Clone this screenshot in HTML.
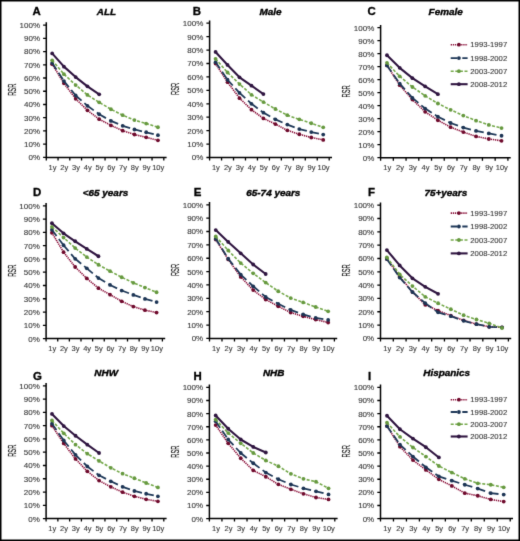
<!DOCTYPE html>
<html><head><meta charset="utf-8"><style>
html,body{margin:0;padding:0;background:#fff;}
svg{display:block;will-change:transform;}
text{font-family:"Liberation Sans",sans-serif;}
</style></head><body>
<svg width="520" height="541" viewBox="0 0 520 541">
<defs><filter id="soft" x="0" y="0" width="520" height="541" filterUnits="userSpaceOnUse" color-interpolation-filters="sRGB"><feConvolveMatrix order="3" kernelMatrix="0.01 0.08 0.01 0.08 0.64 0.08 0.01 0.08 0.01" divisor="1" edgeMode="duplicate"/></filter></defs>
<g filter="url(#soft)">
<rect x="0" y="0" width="520" height="541" fill="#fff"/>
<g stroke="#000" stroke-width="1.5" fill="none">
<path d="M46.3 22.3V157.4H166.6"/>
<path d="M43.1 157.4h3.2M43.1 144.17h3.2M43.1 130.94h3.2M43.1 117.71h3.2M43.1 104.48h3.2M43.1 91.25h3.2M43.1 78.02h3.2M43.1 64.79h3.2M43.1 51.56h3.2M43.1 38.33h3.2M43.1 25.1h3.2" stroke-width="1.3"/>
<path d="M46.3 157.4v3M58.05 157.4v3M69.8 157.4v3M81.55 157.4v3M93.3 157.4v3M105.05 157.4v3M116.8 157.4v3M128.55 157.4v3M140.3 157.4v3M152.05 157.4v3M163.8 157.4v3" stroke-width="1.3"/>
</g>
<g font-family="Liberation Sans, sans-serif" font-size="8.0" fill="#3a3a3a" stroke="#3a3a3a" stroke-width="0.12" text-anchor="end">
<text x="40" y="160.3">0%</text>
<text x="40" y="147.07">10%</text>
<text x="40" y="133.84">20%</text>
<text x="40" y="120.61">30%</text>
<text x="40" y="107.38">40%</text>
<text x="40" y="94.15">50%</text>
<text x="40" y="80.92">60%</text>
<text x="40" y="67.69">70%</text>
<text x="40" y="54.46">80%</text>
<text x="40" y="41.23">90%</text>
<text x="40" y="28">100%</text>
</g>
<g font-family="Liberation Sans, sans-serif" font-size="7.5" fill="#3a3a3a" stroke="#3a3a3a" stroke-width="0.12" text-anchor="middle">
<text x="52.47" y="169.6">1y</text>
<text x="64.22" y="169.6">2y</text>
<text x="75.97" y="169.6">3y</text>
<text x="87.73" y="169.6">4y</text>
<text x="99.48" y="169.6">5y</text>
<text x="111.23" y="169.6">6y</text>
<text x="122.98" y="169.6">7y</text>
<text x="134.73" y="169.6">8y</text>
<text x="146.48" y="169.6">9y</text>
<text x="158.23" y="169.6">10y</text>
</g>
<polyline points="52.17,64.13 63.92,83.31 75.67,98.79 87.43,110.3 99.18,119.17 110.93,125.38 122.68,130.68 134.43,134.51 146.18,137.29 157.93,140.33" fill="none" stroke="#8a0e38" stroke-width="1.6" stroke-dasharray="1.3 0.8" stroke-linejoin="round"/>
<circle cx="52.17" cy="64.13" r="1.9" fill="#6e0a2c"/>
<circle cx="63.92" cy="83.31" r="1.9" fill="#6e0a2c"/>
<circle cx="75.67" cy="98.79" r="1.9" fill="#6e0a2c"/>
<circle cx="87.43" cy="110.3" r="1.9" fill="#6e0a2c"/>
<circle cx="99.18" cy="119.17" r="1.9" fill="#6e0a2c"/>
<circle cx="110.93" cy="125.38" r="1.9" fill="#6e0a2c"/>
<circle cx="122.68" cy="130.68" r="1.9" fill="#6e0a2c"/>
<circle cx="134.43" cy="134.51" r="1.9" fill="#6e0a2c"/>
<circle cx="146.18" cy="137.29" r="1.9" fill="#6e0a2c"/>
<circle cx="157.93" cy="140.33" r="1.9" fill="#6e0a2c"/>
<path d="M52.17 63.07L63.92 81.06M63.92 81.06L75.67 95.48M75.67 95.48L87.43 105.8M87.43 105.8L99.18 114.27M99.18 114.27L110.93 120.89M110.93 120.89L122.68 125.78M122.68 125.78L134.43 129.48M134.43 129.48L146.18 132.26M146.18 132.26L157.93 135.17" fill="none" stroke="#1e3858" stroke-width="1.8" stroke-dasharray="7.8 3.8"/>
<circle cx="52.17" cy="63.07" r="1.9" fill="#1c3454"/>
<circle cx="63.92" cy="81.06" r="1.9" fill="#1c3454"/>
<circle cx="75.67" cy="95.48" r="1.9" fill="#1c3454"/>
<circle cx="87.43" cy="105.8" r="1.9" fill="#1c3454"/>
<circle cx="99.18" cy="114.27" r="1.9" fill="#1c3454"/>
<circle cx="110.93" cy="120.89" r="1.9" fill="#1c3454"/>
<circle cx="122.68" cy="125.78" r="1.9" fill="#1c3454"/>
<circle cx="134.43" cy="129.48" r="1.9" fill="#1c3454"/>
<circle cx="146.18" cy="132.26" r="1.9" fill="#1c3454"/>
<circle cx="157.93" cy="135.17" r="1.9" fill="#1c3454"/>
<polyline points="52.17,60.29 63.92,74.18 75.67,85.03 87.43,94.95 99.18,102.36 110.93,109.24 122.68,115.2 134.43,120.09 146.18,123.53 157.93,127.24" fill="none" stroke="#74a84a" stroke-width="1.6" stroke-dasharray="3 1.6" stroke-linejoin="round"/>
<circle cx="52.17" cy="60.29" r="1.9" fill="#66993f"/>
<circle cx="63.92" cy="74.18" r="1.9" fill="#66993f"/>
<circle cx="75.67" cy="85.03" r="1.9" fill="#66993f"/>
<circle cx="87.43" cy="94.95" r="1.9" fill="#66993f"/>
<circle cx="99.18" cy="102.36" r="1.9" fill="#66993f"/>
<circle cx="110.93" cy="109.24" r="1.9" fill="#66993f"/>
<circle cx="122.68" cy="115.2" r="1.9" fill="#66993f"/>
<circle cx="134.43" cy="120.09" r="1.9" fill="#66993f"/>
<circle cx="146.18" cy="123.53" r="1.9" fill="#66993f"/>
<circle cx="157.93" cy="127.24" r="1.9" fill="#66993f"/>
<polyline points="52.17,53.41 63.92,66.64 75.67,77.09 87.43,86.35 99.18,94.29" fill="none" stroke="#2f1540" stroke-width="2.1" stroke-linejoin="round"/>
<circle cx="52.17" cy="53.41" r="1.9" fill="#2f1540"/>
<circle cx="63.92" cy="66.64" r="1.9" fill="#2f1540"/>
<circle cx="75.67" cy="77.09" r="1.9" fill="#2f1540"/>
<circle cx="87.43" cy="86.35" r="1.9" fill="#2f1540"/>
<circle cx="99.18" cy="94.29" r="1.9" fill="#2f1540"/>
<text transform="translate(106.4,15.2) scale(1.08,1)" font-family="Liberation Sans, sans-serif" font-size="9.2" font-weight="bold" font-style="italic" text-anchor="middle" fill="#000" stroke="#000" stroke-width="0.35">ALL</text>
<text transform="translate(32.5,14.9) scale(1.1,1)" font-family="Liberation Sans, sans-serif" font-size="10.4" font-weight="bold" fill="#000" stroke="#000" stroke-width="0.3">A</text>
<text transform="translate(15.6,89.7) rotate(-90)" x="0" y="0" font-family="Liberation Sans, sans-serif" font-size="10" text-anchor="middle" textLength="12.2" lengthAdjust="spacingAndGlyphs" fill="#222" stroke="#222" stroke-width="0.25">RSR</text>
<g stroke="#000" stroke-width="1.5" fill="none">
<path d="M209.6 20.4V157.5H332"/>
<path d="M206.4 157.5h3.2M206.4 144.07h3.2M206.4 130.64h3.2M206.4 117.21h3.2M206.4 103.78h3.2M206.4 90.35h3.2M206.4 76.92h3.2M206.4 63.49h3.2M206.4 50.06h3.2M206.4 36.63h3.2M206.4 23.2h3.2" stroke-width="1.3"/>
<path d="M209.6 157.5v3M221.56 157.5v3M233.52 157.5v3M245.48 157.5v3M257.44 157.5v3M269.4 157.5v3M281.36 157.5v3M293.32 157.5v3M305.28 157.5v3M317.24 157.5v3M329.2 157.5v3" stroke-width="1.3"/>
</g>
<g font-family="Liberation Sans, sans-serif" font-size="8.0" fill="#3a3a3a" stroke="#3a3a3a" stroke-width="0.12" text-anchor="end">
<text x="203.3" y="160.4">0%</text>
<text x="203.3" y="146.97">10%</text>
<text x="203.3" y="133.54">20%</text>
<text x="203.3" y="120.11">30%</text>
<text x="203.3" y="106.68">40%</text>
<text x="203.3" y="93.25">50%</text>
<text x="203.3" y="79.82">60%</text>
<text x="203.3" y="66.39">70%</text>
<text x="203.3" y="52.96">80%</text>
<text x="203.3" y="39.53">90%</text>
<text x="203.3" y="26.1">100%</text>
</g>
<g font-family="Liberation Sans, sans-serif" font-size="7.5" fill="#3a3a3a" stroke="#3a3a3a" stroke-width="0.12" text-anchor="middle">
<text x="215.88" y="169.7">1y</text>
<text x="227.84" y="169.7">2y</text>
<text x="239.8" y="169.7">3y</text>
<text x="251.76" y="169.7">4y</text>
<text x="263.72" y="169.7">5y</text>
<text x="275.68" y="169.7">6y</text>
<text x="287.64" y="169.7">7y</text>
<text x="299.6" y="169.7">8y</text>
<text x="311.56" y="169.7">9y</text>
<text x="323.52" y="169.7">10y</text>
</g>
<polyline points="215.58,63.62 227.54,82.16 239.5,98.14 251.46,109.69 263.42,118.42 275.38,124.06 287.34,130.37 299.3,134.27 311.26,137.49 323.22,139.91" fill="none" stroke="#8a0e38" stroke-width="1.6" stroke-dasharray="1.3 0.8" stroke-linejoin="round"/>
<circle cx="215.58" cy="63.62" r="1.9" fill="#6e0a2c"/>
<circle cx="227.54" cy="82.16" r="1.9" fill="#6e0a2c"/>
<circle cx="239.5" cy="98.14" r="1.9" fill="#6e0a2c"/>
<circle cx="251.46" cy="109.69" r="1.9" fill="#6e0a2c"/>
<circle cx="263.42" cy="118.42" r="1.9" fill="#6e0a2c"/>
<circle cx="275.38" cy="124.06" r="1.9" fill="#6e0a2c"/>
<circle cx="287.34" cy="130.37" r="1.9" fill="#6e0a2c"/>
<circle cx="299.3" cy="134.27" r="1.9" fill="#6e0a2c"/>
<circle cx="311.26" cy="137.49" r="1.9" fill="#6e0a2c"/>
<circle cx="323.22" cy="139.91" r="1.9" fill="#6e0a2c"/>
<path d="M215.58 62.15L227.54 79.74M227.54 79.74L239.5 92.9M239.5 92.9L251.46 103.78M251.46 103.78L263.42 112.64M263.42 112.64L275.38 119.36M275.38 119.36L287.34 124.6M287.34 124.6L299.3 129.03M299.3 129.03L311.26 132.12M311.26 132.12L323.22 134.53" fill="none" stroke="#1e3858" stroke-width="1.8" stroke-dasharray="7.8 3.8"/>
<circle cx="215.58" cy="62.15" r="1.9" fill="#1c3454"/>
<circle cx="227.54" cy="79.74" r="1.9" fill="#1c3454"/>
<circle cx="239.5" cy="92.9" r="1.9" fill="#1c3454"/>
<circle cx="251.46" cy="103.78" r="1.9" fill="#1c3454"/>
<circle cx="263.42" cy="112.64" r="1.9" fill="#1c3454"/>
<circle cx="275.38" cy="119.36" r="1.9" fill="#1c3454"/>
<circle cx="287.34" cy="124.6" r="1.9" fill="#1c3454"/>
<circle cx="299.3" cy="129.03" r="1.9" fill="#1c3454"/>
<circle cx="311.26" cy="132.12" r="1.9" fill="#1c3454"/>
<circle cx="323.22" cy="134.53" r="1.9" fill="#1c3454"/>
<polyline points="215.58,58.79 227.54,72.49 239.5,84.04 251.46,94.78 263.42,102.03 275.38,109.02 287.34,115.2 299.3,119.36 311.26,123.25 323.22,127.28" fill="none" stroke="#74a84a" stroke-width="1.6" stroke-dasharray="3 1.6" stroke-linejoin="round"/>
<circle cx="215.58" cy="58.79" r="1.9" fill="#66993f"/>
<circle cx="227.54" cy="72.49" r="1.9" fill="#66993f"/>
<circle cx="239.5" cy="84.04" r="1.9" fill="#66993f"/>
<circle cx="251.46" cy="94.78" r="1.9" fill="#66993f"/>
<circle cx="263.42" cy="102.03" r="1.9" fill="#66993f"/>
<circle cx="275.38" cy="109.02" r="1.9" fill="#66993f"/>
<circle cx="287.34" cy="115.2" r="1.9" fill="#66993f"/>
<circle cx="299.3" cy="119.36" r="1.9" fill="#66993f"/>
<circle cx="311.26" cy="123.25" r="1.9" fill="#66993f"/>
<circle cx="323.22" cy="127.28" r="1.9" fill="#66993f"/>
<polyline points="215.58,51.94 227.54,64.97 239.5,77.32 251.46,85.65 263.42,94.11" fill="none" stroke="#2f1540" stroke-width="2.1" stroke-linejoin="round"/>
<circle cx="215.58" cy="51.94" r="1.9" fill="#2f1540"/>
<circle cx="227.54" cy="64.97" r="1.9" fill="#2f1540"/>
<circle cx="239.5" cy="77.32" r="1.9" fill="#2f1540"/>
<circle cx="251.46" cy="85.65" r="1.9" fill="#2f1540"/>
<circle cx="263.42" cy="94.11" r="1.9" fill="#2f1540"/>
<text transform="translate(270.5,15.1) scale(1.08,1)" font-family="Liberation Sans, sans-serif" font-size="9.2" font-weight="bold" font-style="italic" text-anchor="middle" fill="#000" stroke="#000" stroke-width="0.35">Male</text>
<text transform="translate(192.7,15) scale(1.1,1)" font-family="Liberation Sans, sans-serif" font-size="10.4" font-weight="bold" fill="#000" stroke="#000" stroke-width="0.3">B</text>
<text transform="translate(179.3,88.9) rotate(-90)" x="0" y="0" font-family="Liberation Sans, sans-serif" font-size="10" text-anchor="middle" textLength="12.2" lengthAdjust="spacingAndGlyphs" fill="#222" stroke="#222" stroke-width="0.25">RSR</text>
<g stroke="#000" stroke-width="1.5" fill="none">
<path d="M380.6 24.9V157.7H510.7"/>
<path d="M377.4 157.7h3.2M377.4 144.7h3.2M377.4 131.7h3.2M377.4 118.7h3.2M377.4 105.7h3.2M377.4 92.7h3.2M377.4 79.7h3.2M377.4 66.7h3.2M377.4 53.7h3.2M377.4 40.7h3.2M377.4 27.7h3.2" stroke-width="1.3"/>
<path d="M380.6 157.7v3M393.33 157.7v3M406.06 157.7v3M418.79 157.7v3M431.52 157.7v3M444.25 157.7v3M456.98 157.7v3M469.71 157.7v3M482.44 157.7v3M495.17 157.7v3M507.9 157.7v3" stroke-width="1.3"/>
</g>
<g font-family="Liberation Sans, sans-serif" font-size="8.0" fill="#3a3a3a" stroke="#3a3a3a" stroke-width="0.12" text-anchor="end">
<text x="374.3" y="160.6">0%</text>
<text x="374.3" y="147.6">10%</text>
<text x="374.3" y="134.6">20%</text>
<text x="374.3" y="121.6">30%</text>
<text x="374.3" y="108.6">40%</text>
<text x="374.3" y="95.6">50%</text>
<text x="374.3" y="82.6">60%</text>
<text x="374.3" y="69.6">70%</text>
<text x="374.3" y="56.6">80%</text>
<text x="374.3" y="43.6">90%</text>
<text x="374.3" y="30.6">100%</text>
</g>
<g font-family="Liberation Sans, sans-serif" font-size="7.5" fill="#3a3a3a" stroke="#3a3a3a" stroke-width="0.12" text-anchor="middle">
<text x="387.27" y="169.9">1y</text>
<text x="400" y="169.9">2y</text>
<text x="412.73" y="169.9">3y</text>
<text x="425.46" y="169.9">4y</text>
<text x="438.19" y="169.9">5y</text>
<text x="450.92" y="169.9">6y</text>
<text x="463.64" y="169.9">7y</text>
<text x="476.38" y="169.9">8y</text>
<text x="489.1" y="169.9">9y</text>
<text x="501.83" y="169.9">10y</text>
</g>
<polyline points="386.97,65.4 399.69,85.16 412.43,99.59 425.16,111.81 437.88,120.26 450.62,127.15 463.34,132.09 476.07,136.38 488.8,138.98 501.53,140.8" fill="none" stroke="#8a0e38" stroke-width="1.6" stroke-dasharray="1.3 0.8" stroke-linejoin="round"/>
<circle cx="386.97" cy="65.4" r="1.9" fill="#6e0a2c"/>
<circle cx="399.69" cy="85.16" r="1.9" fill="#6e0a2c"/>
<circle cx="412.43" cy="99.59" r="1.9" fill="#6e0a2c"/>
<circle cx="425.16" cy="111.81" r="1.9" fill="#6e0a2c"/>
<circle cx="437.88" cy="120.26" r="1.9" fill="#6e0a2c"/>
<circle cx="450.62" cy="127.15" r="1.9" fill="#6e0a2c"/>
<circle cx="463.34" cy="132.09" r="1.9" fill="#6e0a2c"/>
<circle cx="476.07" cy="136.38" r="1.9" fill="#6e0a2c"/>
<circle cx="488.8" cy="138.98" r="1.9" fill="#6e0a2c"/>
<circle cx="501.53" cy="140.8" r="1.9" fill="#6e0a2c"/>
<path d="M386.97 65.4L399.69 83.6M399.69 83.6L412.43 97.9M412.43 97.9L425.16 108.56M425.16 108.56L437.88 116.75M437.88 116.75L450.62 122.99M450.62 122.99L463.34 127.54M463.34 127.54L476.07 130.92M476.07 130.92L488.8 133.39M488.8 133.39L501.53 135.73" fill="none" stroke="#1e3858" stroke-width="1.8" stroke-dasharray="7.8 3.8"/>
<circle cx="386.97" cy="65.4" r="1.9" fill="#1c3454"/>
<circle cx="399.69" cy="83.6" r="1.9" fill="#1c3454"/>
<circle cx="412.43" cy="97.9" r="1.9" fill="#1c3454"/>
<circle cx="425.16" cy="108.56" r="1.9" fill="#1c3454"/>
<circle cx="437.88" cy="116.75" r="1.9" fill="#1c3454"/>
<circle cx="450.62" cy="122.99" r="1.9" fill="#1c3454"/>
<circle cx="463.34" cy="127.54" r="1.9" fill="#1c3454"/>
<circle cx="476.07" cy="130.92" r="1.9" fill="#1c3454"/>
<circle cx="488.8" cy="133.39" r="1.9" fill="#1c3454"/>
<circle cx="501.53" cy="135.73" r="1.9" fill="#1c3454"/>
<polyline points="386.97,62.8 399.69,76.32 412.43,86.98 425.16,95.82 437.88,103.49 450.62,109.86 463.34,115.58 476.07,120.65 488.8,124.94 501.53,128.06" fill="none" stroke="#74a84a" stroke-width="1.6" stroke-dasharray="3 1.6" stroke-linejoin="round"/>
<circle cx="386.97" cy="62.8" r="1.9" fill="#66993f"/>
<circle cx="399.69" cy="76.32" r="1.9" fill="#66993f"/>
<circle cx="412.43" cy="86.98" r="1.9" fill="#66993f"/>
<circle cx="425.16" cy="95.82" r="1.9" fill="#66993f"/>
<circle cx="437.88" cy="103.49" r="1.9" fill="#66993f"/>
<circle cx="450.62" cy="109.86" r="1.9" fill="#66993f"/>
<circle cx="463.34" cy="115.58" r="1.9" fill="#66993f"/>
<circle cx="476.07" cy="120.65" r="1.9" fill="#66993f"/>
<circle cx="488.8" cy="124.94" r="1.9" fill="#66993f"/>
<circle cx="501.53" cy="128.06" r="1.9" fill="#66993f"/>
<polyline points="386.97,55.26 399.69,67.87 412.43,78.14 425.16,86.46 437.88,94.13" fill="none" stroke="#2f1540" stroke-width="2.1" stroke-linejoin="round"/>
<circle cx="386.97" cy="55.26" r="1.9" fill="#2f1540"/>
<circle cx="399.69" cy="67.87" r="1.9" fill="#2f1540"/>
<circle cx="412.43" cy="78.14" r="1.9" fill="#2f1540"/>
<circle cx="425.16" cy="86.46" r="1.9" fill="#2f1540"/>
<circle cx="437.88" cy="94.13" r="1.9" fill="#2f1540"/>
<text transform="translate(445.7,15.1) scale(1.08,1)" font-family="Liberation Sans, sans-serif" font-size="9.2" font-weight="bold" font-style="italic" text-anchor="middle" fill="#000" stroke="#000" stroke-width="0.35">Female</text>
<text transform="translate(367.5,15) scale(1.1,1)" font-family="Liberation Sans, sans-serif" font-size="10.4" font-weight="bold" fill="#000" stroke="#000" stroke-width="0.3">C</text>
<text transform="translate(350.4,91.4) rotate(-90)" x="0" y="0" font-family="Liberation Sans, sans-serif" font-size="10" text-anchor="middle" textLength="12.2" lengthAdjust="spacingAndGlyphs" fill="#222" stroke="#222" stroke-width="0.25">RSR</text>
<path d="M450.7 44.7H467.6" stroke="#8a0e38" stroke-width="1.6" stroke-dasharray="1.3 0.8" fill="none"/>
<circle cx="458.9" cy="44.7" r="1.9" fill="#6e0a2c"/>
<text x="470.3" y="47.4" font-family="Liberation Sans, sans-serif" font-size="7.7" fill="#3a3a3a" stroke="#3a3a3a" stroke-width="0.12" textLength="36.9" lengthAdjust="spacingAndGlyphs">1993-1997</text>
<path d="M450.7 58.1H467.6" stroke="#1e3858" stroke-width="1.8" stroke-dasharray="6.3 5.3 6 0" fill="none"/>
<circle cx="458.9" cy="58.1" r="1.9" fill="#1c3454"/>
<text x="470.3" y="60.8" font-family="Liberation Sans, sans-serif" font-size="7.7" fill="#3a3a3a" stroke="#3a3a3a" stroke-width="0.12" textLength="36.9" lengthAdjust="spacingAndGlyphs">1998-2002</text>
<path d="M450.7 71.2H467.6" stroke="#74a84a" stroke-width="1.6" stroke-dasharray="3 1.6" fill="none"/>
<circle cx="458.9" cy="71.2" r="1.9" fill="#66993f"/>
<text x="470.3" y="73.9" font-family="Liberation Sans, sans-serif" font-size="7.7" fill="#3a3a3a" stroke="#3a3a3a" stroke-width="0.12" textLength="36.9" lengthAdjust="spacingAndGlyphs">2003-2007</text>
<path d="M450.7 84.2H467.6" stroke="#2f1540" stroke-width="2.1" fill="none"/>
<circle cx="458.9" cy="84.2" r="1.9" fill="#2f1540"/>
<text x="470.3" y="86.9" font-family="Liberation Sans, sans-serif" font-size="7.7" fill="#3a3a3a" stroke="#3a3a3a" stroke-width="0.12" textLength="36.9" lengthAdjust="spacingAndGlyphs">2008-2012</text>
<g stroke="#000" stroke-width="1.5" fill="none">
<path d="M46.1 203V338.6H165.2"/>
<path d="M42.9 338.6h3.2M42.9 325.32h3.2M42.9 312.04h3.2M42.9 298.76h3.2M42.9 285.48h3.2M42.9 272.2h3.2M42.9 258.92h3.2M42.9 245.64h3.2M42.9 232.36h3.2M42.9 219.08h3.2M42.9 205.8h3.2" stroke-width="1.3"/>
<path d="M46.1 338.6v3M57.73 338.6v3M69.36 338.6v3M80.99 338.6v3M92.62 338.6v3M104.25 338.6v3M115.88 338.6v3M127.51 338.6v3M139.14 338.6v3M150.77 338.6v3M162.4 338.6v3" stroke-width="1.3"/>
</g>
<g font-family="Liberation Sans, sans-serif" font-size="8.0" fill="#3a3a3a" stroke="#3a3a3a" stroke-width="0.12" text-anchor="end">
<text x="39.8" y="341.5">0%</text>
<text x="39.8" y="328.22">10%</text>
<text x="39.8" y="314.94">20%</text>
<text x="39.8" y="301.66">30%</text>
<text x="39.8" y="288.38">40%</text>
<text x="39.8" y="275.1">50%</text>
<text x="39.8" y="261.82">60%</text>
<text x="39.8" y="248.54">70%</text>
<text x="39.8" y="235.26">80%</text>
<text x="39.8" y="221.98">90%</text>
<text x="39.8" y="208.7">100%</text>
</g>
<g font-family="Liberation Sans, sans-serif" font-size="7.5" fill="#3a3a3a" stroke="#3a3a3a" stroke-width="0.12" text-anchor="middle">
<text x="52.21" y="350.8">1y</text>
<text x="63.84" y="350.8">2y</text>
<text x="75.48" y="350.8">3y</text>
<text x="87.11" y="350.8">4y</text>
<text x="98.73" y="350.8">5y</text>
<text x="110.36" y="350.8">6y</text>
<text x="121.99" y="350.8">7y</text>
<text x="133.63" y="350.8">8y</text>
<text x="145.26" y="350.8">9y</text>
<text x="156.89" y="350.8">10y</text>
</g>
<polyline points="51.91,232.76 63.55,252.15 75.18,267.02 86.81,278.44 98.44,288.14 110.06,294.64 121.69,301.28 133.33,306.6 144.96,310.18 156.59,312.57" fill="none" stroke="#8a0e38" stroke-width="1.6" stroke-dasharray="1.3 0.8" stroke-linejoin="round"/>
<circle cx="51.91" cy="232.76" r="1.9" fill="#6e0a2c"/>
<circle cx="63.55" cy="252.15" r="1.9" fill="#6e0a2c"/>
<circle cx="75.18" cy="267.02" r="1.9" fill="#6e0a2c"/>
<circle cx="86.81" cy="278.44" r="1.9" fill="#6e0a2c"/>
<circle cx="98.44" cy="288.14" r="1.9" fill="#6e0a2c"/>
<circle cx="110.06" cy="294.64" r="1.9" fill="#6e0a2c"/>
<circle cx="121.69" cy="301.28" r="1.9" fill="#6e0a2c"/>
<circle cx="133.33" cy="306.6" r="1.9" fill="#6e0a2c"/>
<circle cx="144.96" cy="310.18" r="1.9" fill="#6e0a2c"/>
<circle cx="156.59" cy="312.57" r="1.9" fill="#6e0a2c"/>
<path d="M51.91 229.7L63.55 245.24M63.55 245.24L75.18 258.79M75.18 258.79L86.81 268.35M86.81 268.35L98.44 278.04M98.44 278.04L110.06 284.95M110.06 284.95L121.69 290.53M121.69 290.53L133.33 294.91M133.33 294.91L144.96 298.89M144.96 298.89L156.59 302.08" fill="none" stroke="#1e3858" stroke-width="1.8" stroke-dasharray="7.8 3.8"/>
<circle cx="51.91" cy="229.7" r="1.9" fill="#1c3454"/>
<circle cx="63.55" cy="245.24" r="1.9" fill="#1c3454"/>
<circle cx="75.18" cy="258.79" r="1.9" fill="#1c3454"/>
<circle cx="86.81" cy="268.35" r="1.9" fill="#1c3454"/>
<circle cx="98.44" cy="278.04" r="1.9" fill="#1c3454"/>
<circle cx="110.06" cy="284.95" r="1.9" fill="#1c3454"/>
<circle cx="121.69" cy="290.53" r="1.9" fill="#1c3454"/>
<circle cx="133.33" cy="294.91" r="1.9" fill="#1c3454"/>
<circle cx="144.96" cy="298.89" r="1.9" fill="#1c3454"/>
<circle cx="156.59" cy="302.08" r="1.9" fill="#1c3454"/>
<polyline points="51.91,226.78 63.55,237.54 75.18,248.03 86.81,257.06 98.44,264.76 110.06,271.14 121.69,277.25 133.33,282.82 144.96,287.6 156.59,292.25" fill="none" stroke="#74a84a" stroke-width="1.6" stroke-dasharray="3 1.6" stroke-linejoin="round"/>
<circle cx="51.91" cy="226.78" r="1.9" fill="#66993f"/>
<circle cx="63.55" cy="237.54" r="1.9" fill="#66993f"/>
<circle cx="75.18" cy="248.03" r="1.9" fill="#66993f"/>
<circle cx="86.81" cy="257.06" r="1.9" fill="#66993f"/>
<circle cx="98.44" cy="264.76" r="1.9" fill="#66993f"/>
<circle cx="110.06" cy="271.14" r="1.9" fill="#66993f"/>
<circle cx="121.69" cy="277.25" r="1.9" fill="#66993f"/>
<circle cx="133.33" cy="282.82" r="1.9" fill="#66993f"/>
<circle cx="144.96" cy="287.6" r="1.9" fill="#66993f"/>
<circle cx="156.59" cy="292.25" r="1.9" fill="#66993f"/>
<polyline points="51.91,223.2 63.55,233.29 75.18,241.26 86.81,248.96 98.44,256.26" fill="none" stroke="#2f1540" stroke-width="2.1" stroke-linejoin="round"/>
<circle cx="51.91" cy="223.2" r="1.9" fill="#2f1540"/>
<circle cx="63.55" cy="233.29" r="1.9" fill="#2f1540"/>
<circle cx="75.18" cy="241.26" r="1.9" fill="#2f1540"/>
<circle cx="86.81" cy="248.96" r="1.9" fill="#2f1540"/>
<circle cx="98.44" cy="256.26" r="1.9" fill="#2f1540"/>
<text transform="translate(105.5,195.9) scale(1.08,1)" font-family="Liberation Sans, sans-serif" font-size="9.2" font-weight="bold" font-style="italic" text-anchor="middle" fill="#000" stroke="#000" stroke-width="0.35">&lt;65 years</text>
<text transform="translate(33,195.9) scale(1.1,1)" font-family="Liberation Sans, sans-serif" font-size="10.4" font-weight="bold" fill="#000" stroke="#000" stroke-width="0.3">D</text>
<text transform="translate(15.8,270.7) rotate(-90)" x="0" y="0" font-family="Liberation Sans, sans-serif" font-size="10" text-anchor="middle" textLength="12.2" lengthAdjust="spacingAndGlyphs" fill="#222" stroke="#222" stroke-width="0.25">RSR</text>
<g stroke="#000" stroke-width="1.5" fill="none">
<path d="M209.5 202V338.4H337.2"/>
<path d="M206.3 338.4h3.2M206.3 325.04h3.2M206.3 311.68h3.2M206.3 298.32h3.2M206.3 284.96h3.2M206.3 271.6h3.2M206.3 258.24h3.2M206.3 244.88h3.2M206.3 231.52h3.2M206.3 218.16h3.2M206.3 204.8h3.2" stroke-width="1.3"/>
<path d="M209.5 338.4v3M221.99 338.4v3M234.48 338.4v3M246.97 338.4v3M259.46 338.4v3M271.95 338.4v3M284.44 338.4v3M296.93 338.4v3M309.42 338.4v3M321.91 338.4v3M334.4 338.4v3" stroke-width="1.3"/>
</g>
<g font-family="Liberation Sans, sans-serif" font-size="8.0" fill="#3a3a3a" stroke="#3a3a3a" stroke-width="0.12" text-anchor="end">
<text x="203.2" y="341.3">0%</text>
<text x="203.2" y="327.94">10%</text>
<text x="203.2" y="314.58">20%</text>
<text x="203.2" y="301.22">30%</text>
<text x="203.2" y="287.86">40%</text>
<text x="203.2" y="274.5">50%</text>
<text x="203.2" y="261.14">60%</text>
<text x="203.2" y="247.78">70%</text>
<text x="203.2" y="234.42">80%</text>
<text x="203.2" y="221.06">90%</text>
<text x="203.2" y="207.7">100%</text>
</g>
<g font-family="Liberation Sans, sans-serif" font-size="7.5" fill="#3a3a3a" stroke="#3a3a3a" stroke-width="0.12" text-anchor="middle">
<text x="216.05" y="350.6">1y</text>
<text x="228.54" y="350.6">2y</text>
<text x="241.03" y="350.6">3y</text>
<text x="253.52" y="350.6">4y</text>
<text x="266" y="350.6">5y</text>
<text x="278.5" y="350.6">6y</text>
<text x="290.99" y="350.6">7y</text>
<text x="303.47" y="350.6">8y</text>
<text x="315.96" y="350.6">9y</text>
<text x="328.45" y="350.6">10y</text>
</g>
<polyline points="215.75,239.54 228.24,259.44 240.72,276.94 253.22,290.04 265.7,299.52 278.19,306.34 290.69,312.48 303.17,316.36 315.66,319.56 328.15,322.5" fill="none" stroke="#8a0e38" stroke-width="1.6" stroke-dasharray="1.3 0.8" stroke-linejoin="round"/>
<circle cx="215.75" cy="239.54" r="1.9" fill="#6e0a2c"/>
<circle cx="228.24" cy="259.44" r="1.9" fill="#6e0a2c"/>
<circle cx="240.72" cy="276.94" r="1.9" fill="#6e0a2c"/>
<circle cx="253.22" cy="290.04" r="1.9" fill="#6e0a2c"/>
<circle cx="265.7" cy="299.52" r="1.9" fill="#6e0a2c"/>
<circle cx="278.19" cy="306.34" r="1.9" fill="#6e0a2c"/>
<circle cx="290.69" cy="312.48" r="1.9" fill="#6e0a2c"/>
<circle cx="303.17" cy="316.36" r="1.9" fill="#6e0a2c"/>
<circle cx="315.66" cy="319.56" r="1.9" fill="#6e0a2c"/>
<circle cx="328.15" cy="322.5" r="1.9" fill="#6e0a2c"/>
<path d="M215.75 238.73L228.24 258.77M228.24 258.77L240.72 274.54M240.72 274.54L253.22 286.3M253.22 286.3L265.7 296.98M265.7 296.98L278.19 303.8M278.19 303.8L290.69 309.94M290.69 309.94L303.17 314.49M303.17 314.49L315.66 317.96M315.66 317.96L328.15 319.96" fill="none" stroke="#1e3858" stroke-width="1.8" stroke-dasharray="7.8 3.8"/>
<circle cx="215.75" cy="238.73" r="1.9" fill="#1c3454"/>
<circle cx="228.24" cy="258.77" r="1.9" fill="#1c3454"/>
<circle cx="240.72" cy="274.54" r="1.9" fill="#1c3454"/>
<circle cx="253.22" cy="286.3" r="1.9" fill="#1c3454"/>
<circle cx="265.7" cy="296.98" r="1.9" fill="#1c3454"/>
<circle cx="278.19" cy="303.8" r="1.9" fill="#1c3454"/>
<circle cx="290.69" cy="309.94" r="1.9" fill="#1c3454"/>
<circle cx="303.17" cy="314.49" r="1.9" fill="#1c3454"/>
<circle cx="315.66" cy="317.96" r="1.9" fill="#1c3454"/>
<circle cx="328.15" cy="319.96" r="1.9" fill="#1c3454"/>
<polyline points="215.75,236.46 228.24,250.49 240.72,263.05 253.22,273.34 265.7,282.56 278.19,291.24 290.69,298.05 303.17,302.46 315.66,307 328.15,311.28" fill="none" stroke="#74a84a" stroke-width="1.6" stroke-dasharray="3 1.6" stroke-linejoin="round"/>
<circle cx="215.75" cy="236.46" r="1.9" fill="#66993f"/>
<circle cx="228.24" cy="250.49" r="1.9" fill="#66993f"/>
<circle cx="240.72" cy="263.05" r="1.9" fill="#66993f"/>
<circle cx="253.22" cy="273.34" r="1.9" fill="#66993f"/>
<circle cx="265.7" cy="282.56" r="1.9" fill="#66993f"/>
<circle cx="278.19" cy="291.24" r="1.9" fill="#66993f"/>
<circle cx="290.69" cy="298.05" r="1.9" fill="#66993f"/>
<circle cx="303.17" cy="302.46" r="1.9" fill="#66993f"/>
<circle cx="315.66" cy="307" r="1.9" fill="#66993f"/>
<circle cx="328.15" cy="311.28" r="1.9" fill="#66993f"/>
<polyline points="215.75,230.05 228.24,241.94 240.72,253.3 253.22,264.52 265.7,274" fill="none" stroke="#2f1540" stroke-width="2.1" stroke-linejoin="round"/>
<circle cx="215.75" cy="230.05" r="1.9" fill="#2f1540"/>
<circle cx="228.24" cy="241.94" r="1.9" fill="#2f1540"/>
<circle cx="240.72" cy="253.3" r="1.9" fill="#2f1540"/>
<circle cx="253.22" cy="264.52" r="1.9" fill="#2f1540"/>
<circle cx="265.7" cy="274" r="1.9" fill="#2f1540"/>
<text transform="translate(273.3,195.9) scale(1.08,1)" font-family="Liberation Sans, sans-serif" font-size="9.2" font-weight="bold" font-style="italic" text-anchor="middle" fill="#000" stroke="#000" stroke-width="0.35">65-74 years</text>
<text transform="translate(193.7,196) scale(1.1,1)" font-family="Liberation Sans, sans-serif" font-size="10.4" font-weight="bold" fill="#000" stroke="#000" stroke-width="0.3">E</text>
<text transform="translate(179.4,270) rotate(-90)" x="0" y="0" font-family="Liberation Sans, sans-serif" font-size="10" text-anchor="middle" textLength="12.2" lengthAdjust="spacingAndGlyphs" fill="#222" stroke="#222" stroke-width="0.25">RSR</text>
<g stroke="#000" stroke-width="1.5" fill="none">
<path d="M380.5 202.4V338.4H511.2"/>
<path d="M377.3 338.4h3.2M377.3 325.08h3.2M377.3 311.76h3.2M377.3 298.44h3.2M377.3 285.12h3.2M377.3 271.8h3.2M377.3 258.48h3.2M377.3 245.16h3.2M377.3 231.84h3.2M377.3 218.52h3.2M377.3 205.2h3.2" stroke-width="1.3"/>
<path d="M380.5 338.4v3M393.29 338.4v3M406.08 338.4v3M418.87 338.4v3M431.66 338.4v3M444.45 338.4v3M457.24 338.4v3M470.03 338.4v3M482.82 338.4v3M495.61 338.4v3M508.4 338.4v3" stroke-width="1.3"/>
</g>
<g font-family="Liberation Sans, sans-serif" font-size="8.0" fill="#3a3a3a" stroke="#3a3a3a" stroke-width="0.12" text-anchor="end">
<text x="374.2" y="341.3">0%</text>
<text x="374.2" y="327.98">10%</text>
<text x="374.2" y="314.66">20%</text>
<text x="374.2" y="301.34">30%</text>
<text x="374.2" y="288.02">40%</text>
<text x="374.2" y="274.7">50%</text>
<text x="374.2" y="261.38">60%</text>
<text x="374.2" y="248.06">70%</text>
<text x="374.2" y="234.74">80%</text>
<text x="374.2" y="221.42">90%</text>
<text x="374.2" y="208.1">100%</text>
</g>
<g font-family="Liberation Sans, sans-serif" font-size="7.5" fill="#3a3a3a" stroke="#3a3a3a" stroke-width="0.12" text-anchor="middle">
<text x="387.19" y="350.6">1y</text>
<text x="399.99" y="350.6">2y</text>
<text x="412.78" y="350.6">3y</text>
<text x="425.56" y="350.6">4y</text>
<text x="438.36" y="350.6">5y</text>
<text x="451.14" y="350.6">6y</text>
<text x="463.94" y="350.6">7y</text>
<text x="476.72" y="350.6">8y</text>
<text x="489.51" y="350.6">9y</text>
<text x="502.31" y="350.6">10y</text>
</g>
<polyline points="386.89,259.01 399.69,276.46 412.48,292.05 425.26,304.83 438.06,310.56 450.84,315.76 463.63,320.28 476.42,324.15 489.21,326.81 502,327.34" fill="none" stroke="#8a0e38" stroke-width="1.6" stroke-dasharray="1.3 0.8" stroke-linejoin="round"/>
<circle cx="386.89" cy="259.01" r="1.9" fill="#6e0a2c"/>
<circle cx="399.69" cy="276.46" r="1.9" fill="#6e0a2c"/>
<circle cx="412.48" cy="292.05" r="1.9" fill="#6e0a2c"/>
<circle cx="425.26" cy="304.83" r="1.9" fill="#6e0a2c"/>
<circle cx="438.06" cy="310.56" r="1.9" fill="#6e0a2c"/>
<circle cx="450.84" cy="315.76" r="1.9" fill="#6e0a2c"/>
<circle cx="463.63" cy="320.28" r="1.9" fill="#6e0a2c"/>
<circle cx="476.42" cy="324.15" r="1.9" fill="#6e0a2c"/>
<circle cx="489.21" cy="326.81" r="1.9" fill="#6e0a2c"/>
<circle cx="502" cy="327.34" r="1.9" fill="#6e0a2c"/>
<path d="M386.89 259.01L399.69 277.53M399.69 277.53L412.48 292.05M412.48 292.05L425.26 303.24M425.26 303.24L438.06 312.29M438.06 312.29L450.84 316.16M450.84 316.16L463.63 320.82M463.63 320.82L476.42 324.15M476.42 324.15L489.21 326.81M489.21 326.81L502 327.34" fill="none" stroke="#1e3858" stroke-width="1.8" stroke-dasharray="7.8 3.8"/>
<circle cx="386.89" cy="259.01" r="1.9" fill="#1c3454"/>
<circle cx="399.69" cy="277.53" r="1.9" fill="#1c3454"/>
<circle cx="412.48" cy="292.05" r="1.9" fill="#1c3454"/>
<circle cx="425.26" cy="303.24" r="1.9" fill="#1c3454"/>
<circle cx="438.06" cy="312.29" r="1.9" fill="#1c3454"/>
<circle cx="450.84" cy="316.16" r="1.9" fill="#1c3454"/>
<circle cx="463.63" cy="320.82" r="1.9" fill="#1c3454"/>
<circle cx="476.42" cy="324.15" r="1.9" fill="#1c3454"/>
<circle cx="489.21" cy="326.81" r="1.9" fill="#1c3454"/>
<circle cx="502" cy="327.34" r="1.9" fill="#1c3454"/>
<polyline points="386.89,257.28 399.69,274.33 412.48,286.05 425.26,296.84 438.06,303.24 450.84,309.23 463.63,315.22 476.42,319.49 489.21,323.35 502,328.01" fill="none" stroke="#74a84a" stroke-width="1.6" stroke-dasharray="3 1.6" stroke-linejoin="round"/>
<circle cx="386.89" cy="257.28" r="1.9" fill="#66993f"/>
<circle cx="399.69" cy="274.33" r="1.9" fill="#66993f"/>
<circle cx="412.48" cy="286.05" r="1.9" fill="#66993f"/>
<circle cx="425.26" cy="296.84" r="1.9" fill="#66993f"/>
<circle cx="438.06" cy="303.24" r="1.9" fill="#66993f"/>
<circle cx="450.84" cy="309.23" r="1.9" fill="#66993f"/>
<circle cx="463.63" cy="315.22" r="1.9" fill="#66993f"/>
<circle cx="476.42" cy="319.49" r="1.9" fill="#66993f"/>
<circle cx="489.21" cy="323.35" r="1.9" fill="#66993f"/>
<circle cx="502" cy="328.01" r="1.9" fill="#66993f"/>
<polyline points="386.89,250.09 399.69,265.41 412.48,278.33 425.26,286.85 438.06,293.78" fill="none" stroke="#2f1540" stroke-width="2.1" stroke-linejoin="round"/>
<circle cx="386.89" cy="250.09" r="1.9" fill="#2f1540"/>
<circle cx="399.69" cy="265.41" r="1.9" fill="#2f1540"/>
<circle cx="412.48" cy="278.33" r="1.9" fill="#2f1540"/>
<circle cx="425.26" cy="286.85" r="1.9" fill="#2f1540"/>
<circle cx="438.06" cy="293.78" r="1.9" fill="#2f1540"/>
<text transform="translate(445.8,195.9) scale(1.08,1)" font-family="Liberation Sans, sans-serif" font-size="9.2" font-weight="bold" font-style="italic" text-anchor="middle" fill="#000" stroke="#000" stroke-width="0.35">75+years</text>
<text transform="translate(368,196) scale(1.1,1)" font-family="Liberation Sans, sans-serif" font-size="10.4" font-weight="bold" fill="#000" stroke="#000" stroke-width="0.3">F</text>
<text transform="translate(350.4,270.4) rotate(-90)" x="0" y="0" font-family="Liberation Sans, sans-serif" font-size="10" text-anchor="middle" textLength="12.2" lengthAdjust="spacingAndGlyphs" fill="#222" stroke="#222" stroke-width="0.25">RSR</text>
<path d="M450.7 213.1H467.6" stroke="#8a0e38" stroke-width="1.6" stroke-dasharray="1.3 0.8" fill="none"/>
<circle cx="458.9" cy="213.1" r="1.9" fill="#6e0a2c"/>
<text x="470.3" y="215.8" font-family="Liberation Sans, sans-serif" font-size="7.7" fill="#3a3a3a" stroke="#3a3a3a" stroke-width="0.12" textLength="36.9" lengthAdjust="spacingAndGlyphs">1993-1997</text>
<path d="M450.7 226.5H467.6" stroke="#1e3858" stroke-width="1.8" stroke-dasharray="6.3 5.3 6 0" fill="none"/>
<circle cx="458.9" cy="226.5" r="1.9" fill="#1c3454"/>
<text x="470.3" y="229.2" font-family="Liberation Sans, sans-serif" font-size="7.7" fill="#3a3a3a" stroke="#3a3a3a" stroke-width="0.12" textLength="36.9" lengthAdjust="spacingAndGlyphs">1998-2002</text>
<path d="M450.7 240H467.6" stroke="#74a84a" stroke-width="1.6" stroke-dasharray="3 1.6" fill="none"/>
<circle cx="458.9" cy="240" r="1.9" fill="#66993f"/>
<text x="470.3" y="242.7" font-family="Liberation Sans, sans-serif" font-size="7.7" fill="#3a3a3a" stroke="#3a3a3a" stroke-width="0.12" textLength="36.9" lengthAdjust="spacingAndGlyphs">2003-2007</text>
<path d="M450.7 253.4H467.6" stroke="#2f1540" stroke-width="2.1" fill="none"/>
<circle cx="458.9" cy="253.4" r="1.9" fill="#2f1540"/>
<text x="470.3" y="256.1" font-family="Liberation Sans, sans-serif" font-size="7.7" fill="#3a3a3a" stroke="#3a3a3a" stroke-width="0.12" textLength="36.9" lengthAdjust="spacingAndGlyphs">2008-2012</text>
<g stroke="#000" stroke-width="1.5" fill="none">
<path d="M46.1 383V518.6H166.6"/>
<path d="M42.9 518.6h3.2M42.9 505.32h3.2M42.9 492.04h3.2M42.9 478.76h3.2M42.9 465.48h3.2M42.9 452.2h3.2M42.9 438.92h3.2M42.9 425.64h3.2M42.9 412.36h3.2M42.9 399.08h3.2M42.9 385.8h3.2" stroke-width="1.3"/>
<path d="M46.1 518.6v3M57.87 518.6v3M69.64 518.6v3M81.41 518.6v3M93.18 518.6v3M104.95 518.6v3M116.72 518.6v3M128.49 518.6v3M140.26 518.6v3M152.03 518.6v3M163.8 518.6v3" stroke-width="1.3"/>
</g>
<g font-family="Liberation Sans, sans-serif" font-size="8.0" fill="#3a3a3a" stroke="#3a3a3a" stroke-width="0.12" text-anchor="end">
<text x="39.8" y="521.5">0%</text>
<text x="39.8" y="508.22">10%</text>
<text x="39.8" y="494.94">20%</text>
<text x="39.8" y="481.66">30%</text>
<text x="39.8" y="468.38">40%</text>
<text x="39.8" y="455.1">50%</text>
<text x="39.8" y="441.82">60%</text>
<text x="39.8" y="428.54">70%</text>
<text x="39.8" y="415.26">80%</text>
<text x="39.8" y="401.98">90%</text>
<text x="39.8" y="388.7">100%</text>
</g>
<g font-family="Liberation Sans, sans-serif" font-size="7.5" fill="#3a3a3a" stroke="#3a3a3a" stroke-width="0.12" text-anchor="middle">
<text x="52.28" y="530.8">1y</text>
<text x="64.06" y="530.8">2y</text>
<text x="75.83" y="530.8">3y</text>
<text x="87.6" y="530.8">4y</text>
<text x="99.36" y="530.8">5y</text>
<text x="111.14" y="530.8">6y</text>
<text x="122.91" y="530.8">7y</text>
<text x="134.68" y="530.8">8y</text>
<text x="146.45" y="530.8">9y</text>
<text x="158.22" y="530.8">10y</text>
</g>
<polyline points="51.98,425.64 63.76,443.44 75.53,458.97 87.3,471.32 99.06,480.62 110.84,486.86 122.61,492.17 134.38,496.29 146.15,499.34 157.92,501.34" fill="none" stroke="#8a0e38" stroke-width="1.6" stroke-dasharray="1.3 0.8" stroke-linejoin="round"/>
<circle cx="51.98" cy="425.64" r="1.9" fill="#6e0a2c"/>
<circle cx="63.76" cy="443.44" r="1.9" fill="#6e0a2c"/>
<circle cx="75.53" cy="458.97" r="1.9" fill="#6e0a2c"/>
<circle cx="87.3" cy="471.32" r="1.9" fill="#6e0a2c"/>
<circle cx="99.06" cy="480.62" r="1.9" fill="#6e0a2c"/>
<circle cx="110.84" cy="486.86" r="1.9" fill="#6e0a2c"/>
<circle cx="122.61" cy="492.17" r="1.9" fill="#6e0a2c"/>
<circle cx="134.38" cy="496.29" r="1.9" fill="#6e0a2c"/>
<circle cx="146.15" cy="499.34" r="1.9" fill="#6e0a2c"/>
<circle cx="157.92" cy="501.34" r="1.9" fill="#6e0a2c"/>
<path d="M51.98 423.65L63.76 440.51M63.76 440.51L75.53 454.86M75.53 454.86L87.3 466.41M87.3 466.41L99.06 475.31M99.06 475.31L110.84 481.28M110.84 481.28L122.61 486.86M122.61 486.86L134.38 490.98M134.38 490.98L146.15 493.77M146.15 493.77L157.92 496.29" fill="none" stroke="#1e3858" stroke-width="1.8" stroke-dasharray="7.8 3.8"/>
<circle cx="51.98" cy="423.65" r="1.9" fill="#1c3454"/>
<circle cx="63.76" cy="440.51" r="1.9" fill="#1c3454"/>
<circle cx="75.53" cy="454.86" r="1.9" fill="#1c3454"/>
<circle cx="87.3" cy="466.41" r="1.9" fill="#1c3454"/>
<circle cx="99.06" cy="475.31" r="1.9" fill="#1c3454"/>
<circle cx="110.84" cy="481.28" r="1.9" fill="#1c3454"/>
<circle cx="122.61" cy="486.86" r="1.9" fill="#1c3454"/>
<circle cx="134.38" cy="490.98" r="1.9" fill="#1c3454"/>
<circle cx="146.15" cy="493.77" r="1.9" fill="#1c3454"/>
<circle cx="157.92" cy="496.29" r="1.9" fill="#1c3454"/>
<polyline points="51.98,420.46 63.76,433.34 75.53,444.63 87.3,453.66 99.06,460.96 110.84,467.87 122.61,473.71 134.38,478.23 146.15,483.01 157.92,487.39" fill="none" stroke="#74a84a" stroke-width="1.6" stroke-dasharray="3 1.6" stroke-linejoin="round"/>
<circle cx="51.98" cy="420.46" r="1.9" fill="#66993f"/>
<circle cx="63.76" cy="433.34" r="1.9" fill="#66993f"/>
<circle cx="75.53" cy="444.63" r="1.9" fill="#66993f"/>
<circle cx="87.3" cy="453.66" r="1.9" fill="#66993f"/>
<circle cx="99.06" cy="460.96" r="1.9" fill="#66993f"/>
<circle cx="110.84" cy="467.87" r="1.9" fill="#66993f"/>
<circle cx="122.61" cy="473.71" r="1.9" fill="#66993f"/>
<circle cx="134.38" cy="478.23" r="1.9" fill="#66993f"/>
<circle cx="146.15" cy="483.01" r="1.9" fill="#66993f"/>
<circle cx="157.92" cy="487.39" r="1.9" fill="#66993f"/>
<polyline points="51.98,413.95 63.76,426.04 75.53,435.73 87.3,444.63 99.06,453" fill="none" stroke="#2f1540" stroke-width="2.1" stroke-linejoin="round"/>
<circle cx="51.98" cy="413.95" r="1.9" fill="#2f1540"/>
<circle cx="63.76" cy="426.04" r="1.9" fill="#2f1540"/>
<circle cx="75.53" cy="435.73" r="1.9" fill="#2f1540"/>
<circle cx="87.3" cy="444.63" r="1.9" fill="#2f1540"/>
<circle cx="99.06" cy="453" r="1.9" fill="#2f1540"/>
<text transform="translate(106.2,375.6) scale(1.08,1)" font-family="Liberation Sans, sans-serif" font-size="9.2" font-weight="bold" font-style="italic" text-anchor="middle" fill="#000" stroke="#000" stroke-width="0.35">NHW</text>
<text transform="translate(33,379.7) scale(1.1,1)" font-family="Liberation Sans, sans-serif" font-size="10.4" font-weight="bold" fill="#000" stroke="#000" stroke-width="0.3">G</text>
<text transform="translate(15.7,450.7) rotate(-90)" x="0" y="0" font-family="Liberation Sans, sans-serif" font-size="10" text-anchor="middle" textLength="12.2" lengthAdjust="spacingAndGlyphs" fill="#222" stroke="#222" stroke-width="0.25">RSR</text>
<g stroke="#000" stroke-width="1.5" fill="none">
<path d="M209.4 384.6V518.6H337.6"/>
<path d="M206.2 518.6h3.2M206.2 505.48h3.2M206.2 492.36h3.2M206.2 479.24h3.2M206.2 466.12h3.2M206.2 453h3.2M206.2 439.88h3.2M206.2 426.76h3.2M206.2 413.64h3.2M206.2 400.52h3.2M206.2 387.4h3.2" stroke-width="1.3"/>
<path d="M209.4 518.6v3M221.94 518.6v3M234.48 518.6v3M247.02 518.6v3M259.56 518.6v3M272.1 518.6v3M284.64 518.6v3M297.18 518.6v3M309.72 518.6v3M322.26 518.6v3M334.8 518.6v3" stroke-width="1.3"/>
</g>
<g font-family="Liberation Sans, sans-serif" font-size="8.0" fill="#3a3a3a" stroke="#3a3a3a" stroke-width="0.12" text-anchor="end">
<text x="203.1" y="521.5">0%</text>
<text x="203.1" y="508.38">10%</text>
<text x="203.1" y="495.26">20%</text>
<text x="203.1" y="482.14">30%</text>
<text x="203.1" y="469.02">40%</text>
<text x="203.1" y="455.9">50%</text>
<text x="203.1" y="442.78">60%</text>
<text x="203.1" y="429.66">70%</text>
<text x="203.1" y="416.54">80%</text>
<text x="203.1" y="403.42">90%</text>
<text x="203.1" y="390.3">100%</text>
</g>
<g font-family="Liberation Sans, sans-serif" font-size="7.5" fill="#3a3a3a" stroke="#3a3a3a" stroke-width="0.12" text-anchor="middle">
<text x="215.97" y="530.8">1y</text>
<text x="228.51" y="530.8">2y</text>
<text x="241.05" y="530.8">3y</text>
<text x="253.59" y="530.8">4y</text>
<text x="266.13" y="530.8">5y</text>
<text x="278.67" y="530.8">6y</text>
<text x="291.21" y="530.8">7y</text>
<text x="303.75" y="530.8">8y</text>
<text x="316.29" y="530.8">9y</text>
<text x="328.83" y="530.8">10y</text>
</g>
<polyline points="215.67,425.05 228.21,443.29 240.75,458.25 253.29,470.45 265.83,476.75 278.37,484.36 290.91,489.34 303.45,493.8 315.99,497.48 328.53,499.44" fill="none" stroke="#8a0e38" stroke-width="1.6" stroke-dasharray="1.3 0.8" stroke-linejoin="round"/>
<circle cx="215.67" cy="425.05" r="1.9" fill="#6e0a2c"/>
<circle cx="228.21" cy="443.29" r="1.9" fill="#6e0a2c"/>
<circle cx="240.75" cy="458.25" r="1.9" fill="#6e0a2c"/>
<circle cx="253.29" cy="470.45" r="1.9" fill="#6e0a2c"/>
<circle cx="265.83" cy="476.75" r="1.9" fill="#6e0a2c"/>
<circle cx="278.37" cy="484.36" r="1.9" fill="#6e0a2c"/>
<circle cx="290.91" cy="489.34" r="1.9" fill="#6e0a2c"/>
<circle cx="303.45" cy="493.8" r="1.9" fill="#6e0a2c"/>
<circle cx="315.99" cy="497.48" r="1.9" fill="#6e0a2c"/>
<circle cx="328.53" cy="499.44" r="1.9" fill="#6e0a2c"/>
<path d="M215.67 421.25L228.21 439.49M228.21 439.49L240.75 453M240.75 453L253.29 463.23M253.29 463.23L265.83 472.55M265.83 472.55L278.37 479.24M278.37 479.24L290.91 484.49M290.91 484.49L303.45 488.29M303.45 488.29L315.99 491.31M315.99 491.31L328.53 494.46" fill="none" stroke="#1e3858" stroke-width="1.8" stroke-dasharray="7.8 3.8"/>
<circle cx="215.67" cy="421.25" r="1.9" fill="#1c3454"/>
<circle cx="228.21" cy="439.49" r="1.9" fill="#1c3454"/>
<circle cx="240.75" cy="453" r="1.9" fill="#1c3454"/>
<circle cx="253.29" cy="463.23" r="1.9" fill="#1c3454"/>
<circle cx="265.83" cy="472.55" r="1.9" fill="#1c3454"/>
<circle cx="278.37" cy="479.24" r="1.9" fill="#1c3454"/>
<circle cx="290.91" cy="484.49" r="1.9" fill="#1c3454"/>
<circle cx="303.45" cy="488.29" r="1.9" fill="#1c3454"/>
<circle cx="315.99" cy="491.31" r="1.9" fill="#1c3454"/>
<circle cx="328.53" cy="494.46" r="1.9" fill="#1c3454"/>
<polyline points="215.67,419.54 228.21,433.06 240.75,443.29 253.29,453 265.83,460.48 278.37,466.25 290.91,473.86 303.45,478.85 315.99,481.73 328.53,488.29" fill="none" stroke="#74a84a" stroke-width="1.6" stroke-dasharray="3 1.6" stroke-linejoin="round"/>
<circle cx="215.67" cy="419.54" r="1.9" fill="#66993f"/>
<circle cx="228.21" cy="433.06" r="1.9" fill="#66993f"/>
<circle cx="240.75" cy="443.29" r="1.9" fill="#66993f"/>
<circle cx="253.29" cy="453" r="1.9" fill="#66993f"/>
<circle cx="265.83" cy="460.48" r="1.9" fill="#66993f"/>
<circle cx="278.37" cy="466.25" r="1.9" fill="#66993f"/>
<circle cx="290.91" cy="473.86" r="1.9" fill="#66993f"/>
<circle cx="303.45" cy="478.85" r="1.9" fill="#66993f"/>
<circle cx="315.99" cy="481.73" r="1.9" fill="#66993f"/>
<circle cx="328.53" cy="488.29" r="1.9" fill="#66993f"/>
<polyline points="215.67,415.48 228.21,428.73 240.75,439.49 253.29,446.96 265.83,452.48" fill="none" stroke="#2f1540" stroke-width="2.1" stroke-linejoin="round"/>
<circle cx="215.67" cy="415.48" r="1.9" fill="#2f1540"/>
<circle cx="228.21" cy="428.73" r="1.9" fill="#2f1540"/>
<circle cx="240.75" cy="439.49" r="1.9" fill="#2f1540"/>
<circle cx="253.29" cy="446.96" r="1.9" fill="#2f1540"/>
<circle cx="265.83" cy="452.48" r="1.9" fill="#2f1540"/>
<text transform="translate(273.7,375.6) scale(1.08,1)" font-family="Liberation Sans, sans-serif" font-size="9.2" font-weight="bold" font-style="italic" text-anchor="middle" fill="#000" stroke="#000" stroke-width="0.35">NHB</text>
<text transform="translate(193.5,379.7) scale(1.1,1)" font-family="Liberation Sans, sans-serif" font-size="10.4" font-weight="bold" fill="#000" stroke="#000" stroke-width="0.3">H</text>
<text transform="translate(179.4,451.6) rotate(-90)" x="0" y="0" font-family="Liberation Sans, sans-serif" font-size="10" text-anchor="middle" textLength="12.2" lengthAdjust="spacingAndGlyphs" fill="#222" stroke="#222" stroke-width="0.25">RSR</text>
<g stroke="#000" stroke-width="1.5" fill="none">
<path d="M380.5 384.6V518.6H513"/>
<path d="M377.3 518.6h3.2M377.3 505.48h3.2M377.3 492.36h3.2M377.3 479.24h3.2M377.3 466.12h3.2M377.3 453h3.2M377.3 439.88h3.2M377.3 426.76h3.2M377.3 413.64h3.2M377.3 400.52h3.2M377.3 387.4h3.2" stroke-width="1.3"/>
<path d="M380.5 518.6v3M393.47 518.6v3M406.44 518.6v3M419.41 518.6v3M432.38 518.6v3M445.35 518.6v3M458.32 518.6v3M471.29 518.6v3M484.26 518.6v3M497.23 518.6v3M510.2 518.6v3" stroke-width="1.3"/>
</g>
<g font-family="Liberation Sans, sans-serif" font-size="8.0" fill="#3a3a3a" stroke="#3a3a3a" stroke-width="0.12" text-anchor="end">
<text x="374.2" y="521.5">0%</text>
<text x="374.2" y="508.38">10%</text>
<text x="374.2" y="495.26">20%</text>
<text x="374.2" y="482.14">30%</text>
<text x="374.2" y="469.02">40%</text>
<text x="374.2" y="455.9">50%</text>
<text x="374.2" y="442.78">60%</text>
<text x="374.2" y="429.66">70%</text>
<text x="374.2" y="416.54">80%</text>
<text x="374.2" y="403.42">90%</text>
<text x="374.2" y="390.3">100%</text>
</g>
<g font-family="Liberation Sans, sans-serif" font-size="7.5" fill="#3a3a3a" stroke="#3a3a3a" stroke-width="0.12" text-anchor="middle">
<text x="387.29" y="530.8">1y</text>
<text x="400.25" y="530.8">2y</text>
<text x="413.23" y="530.8">3y</text>
<text x="426.19" y="530.8">4y</text>
<text x="439.17" y="530.8">5y</text>
<text x="452.13" y="530.8">6y</text>
<text x="465.11" y="530.8">7y</text>
<text x="478.07" y="530.8">8y</text>
<text x="491.05" y="530.8">9y</text>
<text x="504.01" y="530.8">10y</text>
</g>
<polyline points="386.99,426.1 399.95,446.7 412.93,460.08 425.89,469.92 438.87,479.37 451.83,485.93 464.81,493.15 477.77,495.77 490.75,499.44 503.71,501.54" fill="none" stroke="#8a0e38" stroke-width="1.6" stroke-dasharray="1.3 0.8" stroke-linejoin="round"/>
<circle cx="386.99" cy="426.1" r="1.9" fill="#6e0a2c"/>
<circle cx="399.95" cy="446.7" r="1.9" fill="#6e0a2c"/>
<circle cx="412.93" cy="460.08" r="1.9" fill="#6e0a2c"/>
<circle cx="425.89" cy="469.92" r="1.9" fill="#6e0a2c"/>
<circle cx="438.87" cy="479.37" r="1.9" fill="#6e0a2c"/>
<circle cx="451.83" cy="485.93" r="1.9" fill="#6e0a2c"/>
<circle cx="464.81" cy="493.15" r="1.9" fill="#6e0a2c"/>
<circle cx="477.77" cy="495.77" r="1.9" fill="#6e0a2c"/>
<circle cx="490.75" cy="499.44" r="1.9" fill="#6e0a2c"/>
<circle cx="503.71" cy="501.54" r="1.9" fill="#6e0a2c"/>
<path d="M386.99 426.1L399.95 444.6M399.95 444.6L412.93 456.54M412.93 456.54L425.89 467.3M425.89 467.3L438.87 476.35M438.87 476.35L451.83 480.68M451.83 480.68L464.81 484.75M464.81 484.75L477.77 488.56M477.77 488.56L490.75 493.15M490.75 493.15L503.71 494.59" fill="none" stroke="#1e3858" stroke-width="1.8" stroke-dasharray="7.8 3.8"/>
<circle cx="386.99" cy="426.1" r="1.9" fill="#1c3454"/>
<circle cx="399.95" cy="444.6" r="1.9" fill="#1c3454"/>
<circle cx="412.93" cy="456.54" r="1.9" fill="#1c3454"/>
<circle cx="425.89" cy="467.3" r="1.9" fill="#1c3454"/>
<circle cx="438.87" cy="476.35" r="1.9" fill="#1c3454"/>
<circle cx="451.83" cy="480.68" r="1.9" fill="#1c3454"/>
<circle cx="464.81" cy="484.75" r="1.9" fill="#1c3454"/>
<circle cx="477.77" cy="488.56" r="1.9" fill="#1c3454"/>
<circle cx="490.75" cy="493.15" r="1.9" fill="#1c3454"/>
<circle cx="503.71" cy="494.59" r="1.9" fill="#1c3454"/>
<polyline points="386.99,422.69 399.95,436.86 412.93,447.49 425.89,456.54 438.87,465.99 451.83,472.55 464.81,478.85 477.77,483.31 490.75,484.75 503.71,487.37" fill="none" stroke="#74a84a" stroke-width="1.6" stroke-dasharray="3 1.6" stroke-linejoin="round"/>
<circle cx="386.99" cy="422.69" r="1.9" fill="#66993f"/>
<circle cx="399.95" cy="436.86" r="1.9" fill="#66993f"/>
<circle cx="412.93" cy="447.49" r="1.9" fill="#66993f"/>
<circle cx="425.89" cy="456.54" r="1.9" fill="#66993f"/>
<circle cx="438.87" cy="465.99" r="1.9" fill="#66993f"/>
<circle cx="451.83" cy="472.55" r="1.9" fill="#66993f"/>
<circle cx="464.81" cy="478.85" r="1.9" fill="#66993f"/>
<circle cx="477.77" cy="483.31" r="1.9" fill="#66993f"/>
<circle cx="490.75" cy="484.75" r="1.9" fill="#66993f"/>
<circle cx="503.71" cy="487.37" r="1.9" fill="#66993f"/>
<polyline points="386.99,415.74 399.95,429.25 412.93,438.57 425.89,447.23 438.87,457.46" fill="none" stroke="#2f1540" stroke-width="2.1" stroke-linejoin="round"/>
<circle cx="386.99" cy="415.74" r="1.9" fill="#2f1540"/>
<circle cx="399.95" cy="429.25" r="1.9" fill="#2f1540"/>
<circle cx="412.93" cy="438.57" r="1.9" fill="#2f1540"/>
<circle cx="425.89" cy="447.23" r="1.9" fill="#2f1540"/>
<circle cx="438.87" cy="457.46" r="1.9" fill="#2f1540"/>
<text transform="translate(446.7,375.7) scale(1.08,1)" font-family="Liberation Sans, sans-serif" font-size="9.2" font-weight="bold" font-style="italic" text-anchor="middle" fill="#000" stroke="#000" stroke-width="0.35">Hispanics</text>
<text transform="translate(368,379.7) scale(1.1,1)" font-family="Liberation Sans, sans-serif" font-size="10.4" font-weight="bold" fill="#000" stroke="#000" stroke-width="0.3">I</text>
<text transform="translate(350.4,451.3) rotate(-90)" x="0" y="0" font-family="Liberation Sans, sans-serif" font-size="10" text-anchor="middle" textLength="12.2" lengthAdjust="spacingAndGlyphs" fill="#222" stroke="#222" stroke-width="0.25">RSR</text>
<path d="M450.7 399.7H467.6" stroke="#8a0e38" stroke-width="1.6" stroke-dasharray="1.3 0.8" fill="none"/>
<circle cx="458.9" cy="399.7" r="1.9" fill="#6e0a2c"/>
<text x="470.3" y="402.4" font-family="Liberation Sans, sans-serif" font-size="7.7" fill="#3a3a3a" stroke="#3a3a3a" stroke-width="0.12" textLength="36.9" lengthAdjust="spacingAndGlyphs">1993-1997</text>
<path d="M450.7 412H467.6" stroke="#1e3858" stroke-width="1.8" stroke-dasharray="6.3 5.3 6 0" fill="none"/>
<circle cx="458.9" cy="412" r="1.9" fill="#1c3454"/>
<text x="470.3" y="414.7" font-family="Liberation Sans, sans-serif" font-size="7.7" fill="#3a3a3a" stroke="#3a3a3a" stroke-width="0.12" textLength="36.9" lengthAdjust="spacingAndGlyphs">1998-2002</text>
<path d="M450.7 424.2H467.6" stroke="#74a84a" stroke-width="1.6" stroke-dasharray="3 1.6" fill="none"/>
<circle cx="458.9" cy="424.2" r="1.9" fill="#66993f"/>
<text x="470.3" y="426.9" font-family="Liberation Sans, sans-serif" font-size="7.7" fill="#3a3a3a" stroke="#3a3a3a" stroke-width="0.12" textLength="36.9" lengthAdjust="spacingAndGlyphs">2003-2007</text>
<path d="M450.7 436.5H467.6" stroke="#2f1540" stroke-width="2.1" fill="none"/>
<circle cx="458.9" cy="436.5" r="1.9" fill="#2f1540"/>
<text x="470.3" y="439.2" font-family="Liberation Sans, sans-serif" font-size="7.7" fill="#3a3a3a" stroke="#3a3a3a" stroke-width="0.12" textLength="36.9" lengthAdjust="spacingAndGlyphs">2008-2012</text>
<rect x="0.75" y="0.75" width="518.5" height="539.5" fill="none" stroke="#000" stroke-width="1.5"/>
</g>
</svg>
</body></html>
